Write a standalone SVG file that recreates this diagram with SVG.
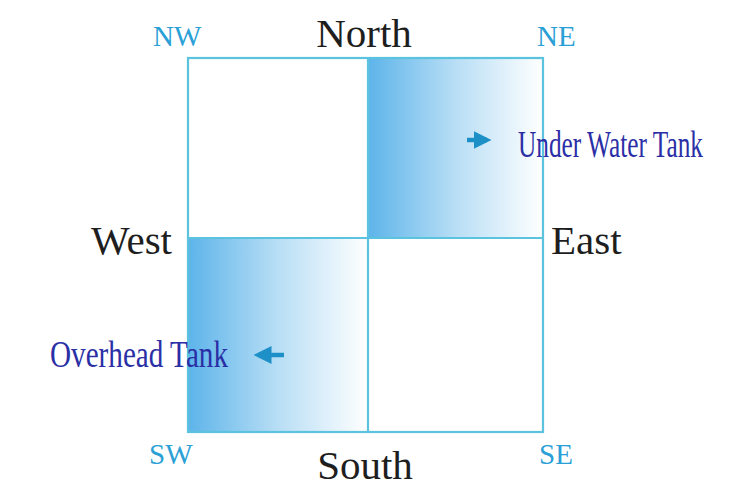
<svg xmlns="http://www.w3.org/2000/svg" width="750" height="500" viewBox="0 0 750 500">
<style>
.dir{font-family:"Liberation Serif",serif;font-size:41px;fill:#1e1e1e}
.cor{font-family:"Liberation Serif",serif;font-size:29px;fill:#2aa0d6}
.lab{font-family:"Liberation Serif",serif;font-size:38px;fill:#2b2fa6}
.ln{stroke:#5cc3df;stroke-width:2.2;fill:none}
.arr{stroke:#1e90c8;stroke-width:4.5;fill:none}
</style>
<defs>
<linearGradient id="g" x1="0" y1="0" x2="1" y2="0">
<stop offset="0" stop-color="#5db4ea"/>
<stop offset="0.5" stop-color="#b8def5"/>
<stop offset="1" stop-color="#ffffff"/>
</linearGradient>
<marker id="ah" markerWidth="4" markerHeight="4" refX="3" refY="2" orient="auto" markerUnits="strokeWidth">
<path d="M0,0 L4,2 L0,4 Z" fill="#1e90c8"/>
</marker>
</defs>
<rect width="750" height="500" fill="#fff"/>
<g id="grid">
<rect x="368" y="58" width="175" height="180" fill="url(#g)"/>
<rect x="188" y="238" width="180" height="194" fill="url(#g)"/>
<rect class="ln" x="188" y="58" width="355" height="374"/>
<line class="ln" x1="368" y1="58" x2="368" y2="432"/>
<line class="ln" x1="188" y1="238" x2="543" y2="238"/>
</g>
<g id="labels">
<text class="dir" x="364" y="47" text-anchor="middle">North</text>
<text class="dir" x="365" y="479" text-anchor="middle">South</text>
<text class="dir" x="172" y="254" text-anchor="end">West</text>
<text class="dir" x="551" y="254">East</text>
<text class="cor" x="153" y="46">NW</text>
<text class="cor" x="537" y="46">NE</text>
<text class="cor" x="149" y="464">SW</text>
<text class="cor" x="539" y="464">SE</text>
</g>
<g id="uwt">
<text class="lab" x="518" y="157" textLength="185" lengthAdjust="spacingAndGlyphs">Under Water Tank</text>
</g>
<g id="oht">
<text class="lab" x="50" y="367" textLength="178" lengthAdjust="spacingAndGlyphs">Overhead Tank</text>
</g>
<g id="connectors">
<line class="arr" x1="467" y1="140" x2="487" y2="140" marker-end="url(#ah)"/>
<line class="arr" x1="284" y1="355" x2="258" y2="355" marker-end="url(#ah)"/>
</g>
</svg>
